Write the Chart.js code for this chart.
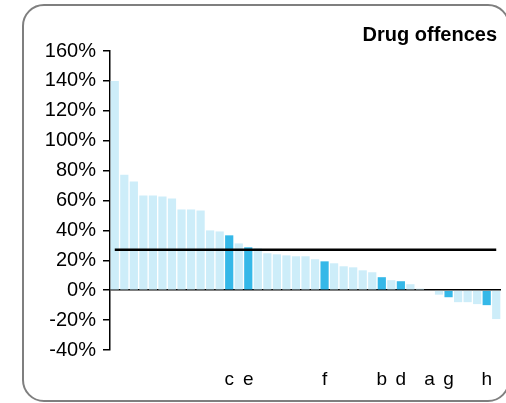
<!DOCTYPE html>
<html lang="en">
<head>
<meta charset="UTF-8">
<script src="https://cdn.jsdelivr.net/npm/chart.js"></script>
<style>
    body { margin: 0; background: #fff; overflow: hidden; }
    #frame {
        position: absolute; left: 22px; top: 4px; width: 488px; height: 398px;
        box-sizing: border-box; border: 2px solid #7f7f7f; border-radius: 22px;
    }
    #wrap { position: absolute; left: 0; top: 0; width: 506px; height: 403px; }
</style>
</head>
<body>
<div id="frame"></div>
<div id="wrap"><canvas id="chart"></canvas></div>
<script>
    const title = 'Drug offences';
    const values = [140, 77.3, 72.7, 63.3, 63.3, 62.7, 61.3, 54, 54, 53.3,
        40, 39.3, 36.7, 31.3, 28.7, 28, 24.7, 24, 23.3, 22.7,
        22.7, 20.7, 19.3, 18, 16, 15.3, 13.3, 12, 8.7, 6.7,
        6, 4, 1, 0, -3, -4.7, -8, -8, -9.3, -10, -19.3];
    const highlighted = { 12: 'c', 14: 'e', 22: 'f', 28: 'b', 30: 'd', 33: 'a', 35: 'g', 39: 'h' };
    const average = 27;
    const yTicks = [-40, -20, 0, 20, 40, 60, 80, 100, 120, 140, 160];

    const labels = values.map((v, i) => highlighted[i] || '');
    const colors = values.map((v, i) => highlighted[i] ? '#35b8e8' : '#cdedf9');

    const titlePlugin = {
        id: 'cornerTitle',
        afterDraw(chart) {
            const ctx = chart.ctx;
            ctx.save();
            ctx.font = 'bold 20px "Liberation Sans", Arial, sans-serif';
            ctx.fillStyle = '#000';
            ctx.textAlign = 'right';
            ctx.textBaseline = 'middle';
            ctx.fillText(title, 497, 35);
            ctx.restore();
        }
    };

    new Chart(document.getElementById('chart'), {
        type: 'bar',
        data: {
            labels: labels,
            datasets: [
                {
                    type: 'line',
                    data: values.map(() => average),
                    borderColor: '#000',
                    borderWidth: 2.5,
                    pointRadius: 0,
                    order: 0
                },
                {
                    data: values,
                    backgroundColor: colors,
                    categoryPercentage: 1,
                    barPercentage: 0.86,
                    order: 1
                }
            ]
        },
        plugins: [titlePlugin],
        options: {
            responsive: true,
            maintainAspectRatio: false,
            animation: false,
            layout: { padding: { top: 51, left: 0, right: 5, bottom: 0 } },
            plugins: { legend: { display: false }, tooltip: { enabled: false } },
            scales: {
                x: {
                    grid: { display: false, drawTicks: false },
                    border: { display: false },
                    ticks: {
                        autoSkip: false, maxRotation: 0, padding: 18, color: '#000',
                        font: { family: '"Liberation Sans", Arial, sans-serif', size: 19 }
                    },
                    afterFit(scale) {
                        scale.height = 53;
                        scale.paddingLeft = 0;
                        scale.paddingRight = 0;
                    }
                },
                y: {
                    min: -40, max: 160,
                    afterBuildTicks(scale) { scale.ticks = yTicks.map(v => ({ value: v })); },
                    grid: {
                        color: ctx => ctx.tick && ctx.tick.value === 0 ? '#000' : 'rgba(0,0,0,0)',
                        lineWidth: 1.5,
                        tickColor: '#000',
                        tickLength: 7,
                        tickWidth: 1.5
                    },
                    border: { display: true, color: '#000', width: 1.5 },
                    ticks: {
                        padding: 7, color: '#000',
                        font: { family: '"Liberation Sans", Arial, sans-serif', size: 20 },
                        callback: v => v + '%'
                    },
                    afterFit(scale) { scale.width = 110; }
                }
            }
        }
    });
</script>
</body>
</html>
